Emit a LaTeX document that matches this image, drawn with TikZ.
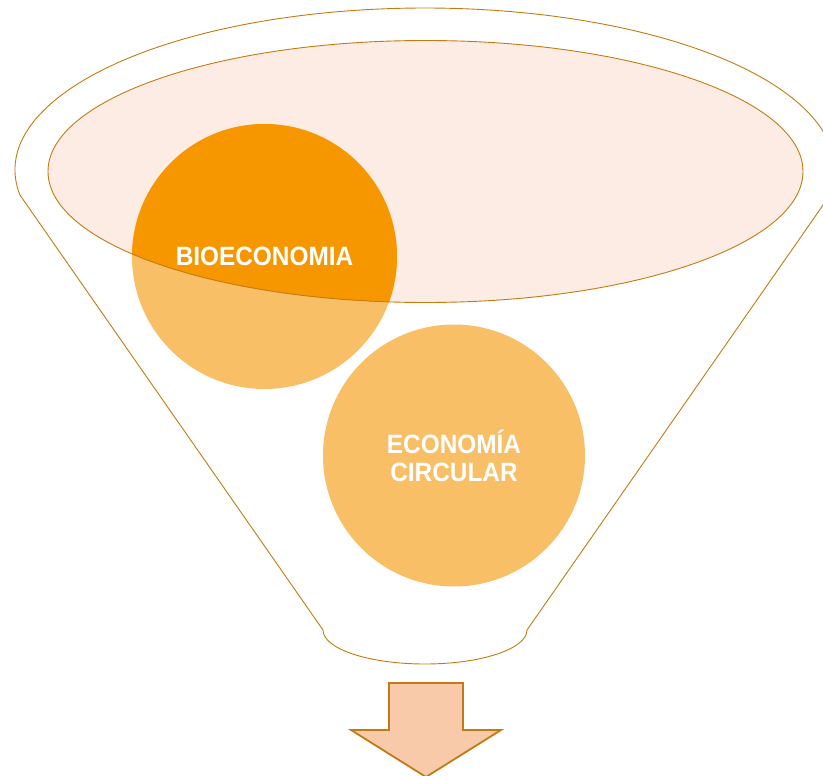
\documentclass[tikz,border=0pt]{standalone}
\usepackage{fontspec}
\newfontfamily\lblfont{Liberation Sans}[FakeStretch=0.92]
\definecolor{funnelline}{HTML}{C47A12}
\definecolor{lightorange}{HTML}{F9BF66}
\definecolor{darkorange}{HTML}{F79700}
\definecolor{pinkfill}{HTML}{FDECE3}
\definecolor{arrowfill}{HTML}{F9CAA9}
\tikzset{
  outline/.style={draw=funnelline, line width=0.9pt},
  ball/.style={circle, inner sep=0pt, minimum size=#1, fill=lightorange},
  lbl/.style={text=white, align=center, font=\lblfont\bfseries\fontsize{26.5}{28}\selectfont, inner sep=0pt},
}
\begin{document}
\begin{tikzpicture}[x=1pt, y=-1pt]
\path[use as bounding box, clip] (0,0) rectangle (823,776);
% funnel outline
\draw[outline, fill=white] (425,170) ++(171.12:410 and 162)
  arc[start angle=171.12, end angle=368.88, x radius=410, y radius=162]
  -- (527,630)
  arc[start angle=0, end angle=180, x radius=102, y radius=34]
  -- cycle;
% inner ellipse fill
\fill[pinkfill] (425.5,171.5) ellipse[x radius=377.5, y radius=131];
% circles
\node[ball=265pt] (bio) at (264.5,256.5) {};
\node[ball=262pt] (circ) at (454,455.5) {};
\begin{scope}
  \clip (425.5,171.5) ellipse[x radius=377.5, y radius=131];
  \fill[darkorange] (bio.center) circle[radius=132.5];
\end{scope}
% inner ellipse outline
\draw[outline] (425.5,171.5) ellipse[x radius=377.5, y radius=131];
% labels
\node[lbl] (biotext) at (bio.center) {BIOECONOMIA};
\node[lbl] (circtext) at (circ.center) {ECONOMÍA\\CIRCULAR};
% down arrow
\coordinate (a1) at (389,683);
\coordinate (a2) at (463,683);
\coordinate (a3) at (463,730);
\coordinate (a4) at (501,730);
\coordinate (tip) at (426,777);
\coordinate (a6) at (351,730);
\coordinate (a7) at (389,730);
\draw[draw=funnelline, line width=1.8pt, fill=arrowfill, line join=miter]
  (a1) -- (a2) -- (a3) -- (a4) -- (tip) -- (a6) -- (a7) -- cycle;
\end{tikzpicture}
\end{document}
